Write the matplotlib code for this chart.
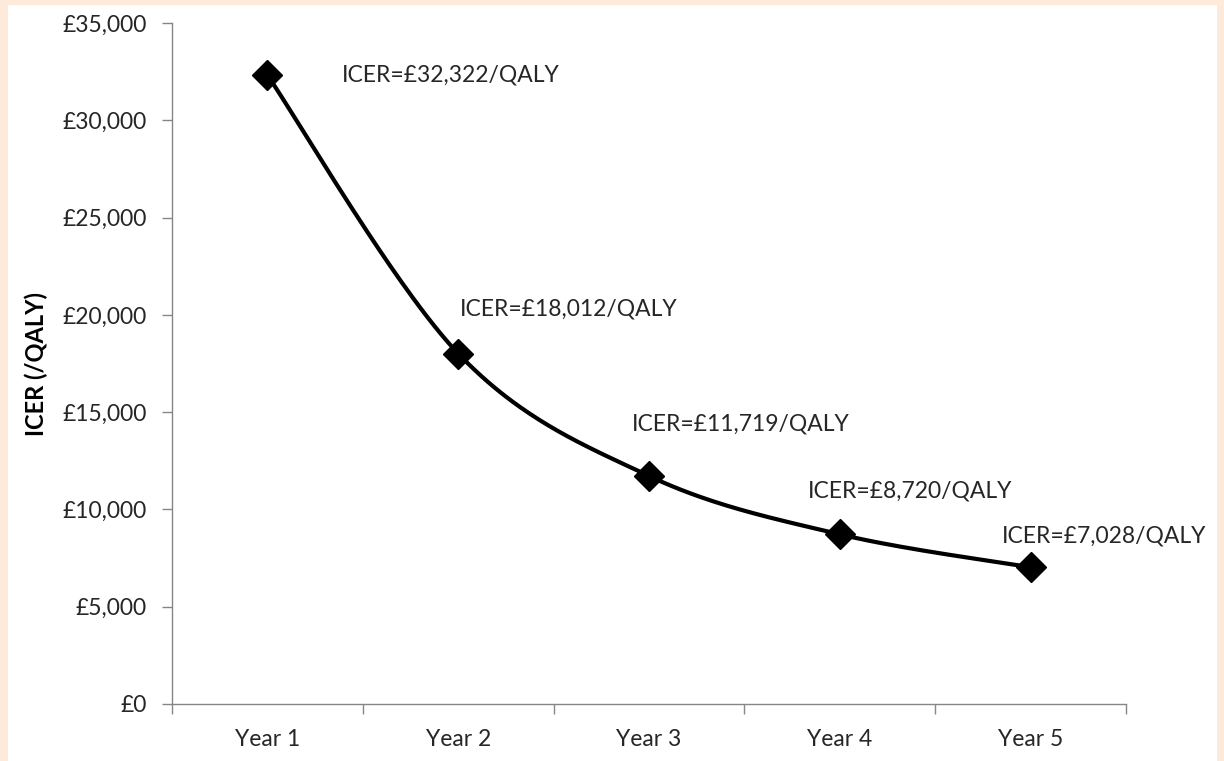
import numpy as np
import matplotlib
matplotlib.use("Agg")
import matplotlib.pyplot as plt
from matplotlib.patches import Rectangle

categories = ["Year 1", "Year 2", "Year 3", "Year 4", "Year 5"]
icer = [32322, 18012, 11719, 8720, 7028]
labels = ["ICER=£32,322/QALY", "ICER=£18,012/QALY", "ICER=£11,719/QALY",
          "ICER=£8,720/QALY", "ICER=£7,028/QALY"]
yticks = [0, 5000, 10000, 15000, 20000, 25000, 30000, 35000]
ytick_labels = ["£0", "£5,000", "£10,000", "£15,000", "£20,000", "£25,000", "£30,000", "£35,000"]
# label offsets in pixels (dx, dy) relative to each point
label_offsets = [(74, 0), (2, 45), (-17, 52), (-32, 43), (-29, 31)]

FONT = ["Lato", "DejaVu Sans"]
plt.rcParams["font.family"] = FONT
FS = 16.5

W, H = 1224, 761
fig = plt.figure(figsize=(W / 100, H / 100), dpi=100)
fig.patch.set_facecolor("#FDEADA")
bg = Rectangle((8 / W, 0), (1217 - 8) / W, (H - 5) / H,
               transform=fig.transFigure, facecolor="white",
               edgecolor="none", zorder=-10)
fig.add_artist(bg)

ax = fig.add_axes([172 / W, (H - 704) / H, (1126 - 172) / W, (704 - 23) / H])
ax.set_facecolor("none")
ax.set_zorder(5)

x = np.arange(len(categories))
y = np.array(icer, dtype=float)

# Smoothed curve (Catmull-Rom style Bezier, like Excel smoothing)
def smooth(xs, ys, n=60):
    px = np.concatenate([[xs[0]], xs, [xs[-1]]])
    py = np.concatenate([[ys[0]], ys, [ys[-1]]])
    outx, outy = [], []
    for i in range(1, len(px) - 2):
        p0 = np.array([px[i], py[i]])
        p3 = np.array([px[i + 1], py[i + 1]])
        c1 = p0 + (np.array([px[i + 1], py[i + 1]]) - np.array([px[i - 1], py[i - 1]])) / 6
        c2 = p3 - (np.array([px[i + 2], py[i + 2]]) - np.array([px[i], py[i]])) / 6
        t = np.linspace(0, 1, n)[:, None]
        pts = ((1 - t) ** 3) * p0 + 3 * ((1 - t) ** 2) * t * c1 + 3 * (1 - t) * t ** 2 * c2 + t ** 3 * p3
        outx.extend(pts[:, 0]); outy.extend(pts[:, 1])
    return np.array(outx), np.array(outy)

sx, sy = smooth(x.astype(float), y)
ax.plot(sx, sy, color="black", lw=3, solid_capstyle="round", zorder=3)
ax.plot(x, y, linestyle="none", marker="D", ms=15, color="black", zorder=4)

for xi, yi, lab, (dx, dy) in zip(x, y, labels, label_offsets):
    ax.annotate(lab, (xi, yi), xytext=(dx, dy), textcoords="offset pixels",
                ha="left", va="center", fontsize=FS, color="#262626")

ax.set_xlim(-0.5, len(categories) - 0.5)
ax.set_ylim(0, 35000)
ax.set_yticks(yticks)
ax.set_yticklabels(ytick_labels)
ax.set_xticks(x)
ax.set_xticklabels(categories)
ax.set_xticks(np.arange(len(categories) + 1) - 0.5, minor=True)
ax.tick_params(axis="x", which="major", length=0, pad=18, labelsize=FS, labelcolor="#262626")
ax.tick_params(axis="x", which="minor", length=7, width=1, color="#868686", direction="out")
ax.tick_params(axis="y", length=7, width=1, color="#868686", direction="out", pad=11,
               labelsize=FS, labelcolor="#262626")

for s in ["top", "right"]:
    ax.spines[s].set_visible(False)
for s in ["left", "bottom"]:
    ax.spines[s].set_color("#868686")
    ax.spines[s].set_linewidth(1)

ax.set_ylabel("ICER (/QALY)", fontsize=17, fontweight="bold", color="black")
ax.yaxis.set_label_coords((48 - 172) / 954, 0.5)

fig.savefig("out.png", dpi=100, facecolor=fig.get_facecolor())
